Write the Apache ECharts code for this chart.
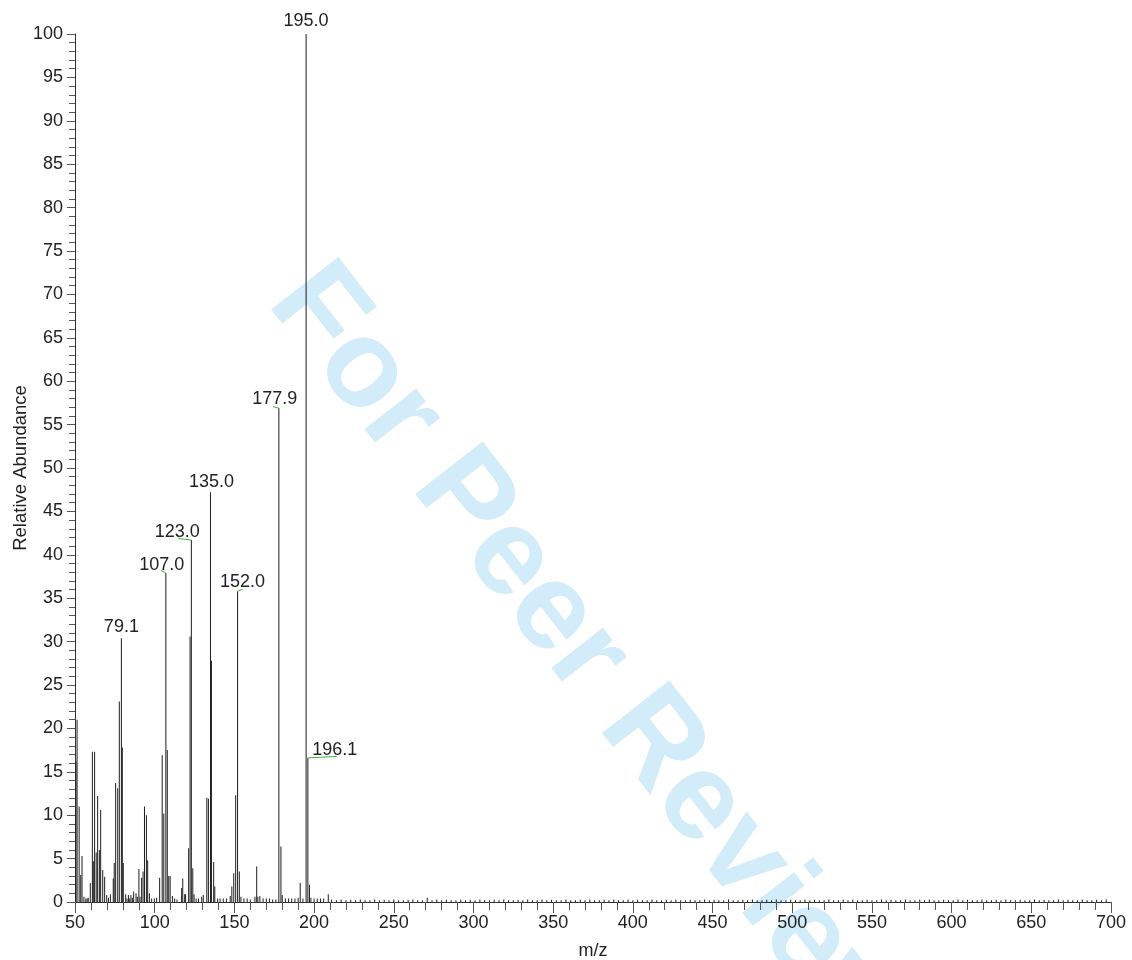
<!DOCTYPE html>
<html><head><meta charset="utf-8">
<script src="https://cdn.jsdelivr.net/npm/echarts@6/dist/echarts.min.js"></script>
<style>html,body{margin:0;padding:0;background:#fff}#chart{width:1132px;height:960px}</style>
</head><body><div id="chart"></div>
<script>
// ---- data ----
const peakMz = [50.6,51.3,52.6,53.6,54.4,55.6,56.8,57.6,58.3,59.6,60.9,61.5,62.3,63.3,64.2,65.3,66.1,67.4,68.6,69.9,
  71.0,72.2,74.0,74.6,75.5,76.8,77.8,79.1,79.7,80.3,81.8,82.6,83.5,84.3,85.1,86.0,86.8,88.3,89.1,90.1,
  90.8,91.8,92.7,93.6,94.8,95.6,96.7,98.1,99.8,101.2,103.1,104.7,105.7,107.0,107.9,108.8,109.7,111.1,112.5,114.0,
  116.9,117.6,118.8,119.4,121.3,122.2,123.0,123.9,124.7,126.0,127.5,129.5,130.5,132.7,133.7,135.0,135.6,137.0,137.7,139.5,
  141.0,143.0,145.0,147.4,148.4,149.6,150.8,152.0,153.1,154.1,156.0,158.0,160.0,162.9,164.0,164.7,166.0,168.0,170.0,172.0,
  174.0,176.0,177.9,179.2,180.0,182.0,184.0,186.0,188.0,190.0,191.3,193.0,195.0,196.1,197.1,198.0,200.0,202.0,204.0,206.0,208.9];
const peakAb = [16.2,21.0,11.0,3.1,5.3,0.6,0.4,0.4,0.5,2.2,17.3,4.7,17.3,5.7,12.2,6.0,10.6,3.7,2.9,0.8,
  0.5,0.9,2.7,4.5,13.7,13.1,23.1,30.4,17.8,4.5,0.9,0.4,0.8,0.4,0.8,0.5,1.2,1.0,0.6,3.8,
  0.6,2.8,3.5,11.0,10.0,4.8,1.0,0.4,0.4,0.5,2.8,16.9,10.2,37.9,17.5,3.0,3.0,0.7,0.4,0.3,
  1.6,2.7,0.9,0.9,6.2,30.6,41.7,3.9,0.9,0.4,0.4,0.6,0.8,12.0,11.9,47.2,27.8,4.6,1.8,0.4,
  0.4,0.4,0.4,0.7,1.8,3.3,12.3,35.8,3.5,0.6,0.4,0.4,0.3,0.6,4.1,0.6,0.7,0.4,0.4,0.4,
  0.3,0.3,56.9,6.4,0.8,0.4,0.4,0.4,0.4,0.5,2.2,0.4,100,16.6,2.0,0.5,0.4,0.4,0.4,0.4,0.9];
const noiseMz = [211,214,217,220,223,226,229,232,235,238,241,244,247,250,253,256,259,262,265,268,271,274,277,280,283,286,289,292,295,298,
  301,304,307,310,313,316,319,322,325,328,331,334,337,340,343,346,349,352,355,358,361,364,367,370,373,376,379,382,385,388,
  391,394,397,400,403,406,409,412,415,418,421,424,427,430,433,436,439,442,445,448,451,454,457,460,463,466,469,472,475,478,
  481,484,487,490,493,496,499,502,505,508,511,514,517,520,523,526,529,532,535,538,541,544,547,550,553,556,559,562,565,568,
  571,574,577,580,583,586,589,592,595,598,601,604,607,610,613,616,619,622,625,628,631,634,637,640,643,646,649,652,655,658,
  661,664,667,670,673,676,679,682,685,688,691,694,697];
const noiseAb = [0.3,0.2,0.3,0.2,0.25,0.2,0.3,0.2,0.2,0.3,0.2,0.25,0.2,0.3,0.2,0.2,0.25,0.3,0.2,0.2,0.5,0.2,0.3,0.2,0.25,0.2,0.2,0.3,0.2,0.25,
  0.2,0.3,0.2,0.2,0.25,0.2,0.3,0.2,0.2,0.25,0.2,0.3,0.2,0.2,0.3,0.2,0.25,0.2,0.2,0.3,0.2,0.2,0.25,0.2,0.3,0.2,0.2,0.25,0.2,0.3,
  0.2,0.2,0.3,0.2,0.25,0.2,0.2,0.3,0.2,0.2,0.25,0.2,0.3,0.2,0.2,0.25,0.2,0.2,0.3,0.2,0.25,0.2,0.2,0.3,0.2,0.2,0.25,0.2,0.3,0.2,
  0.2,0.25,0.2,0.3,0.2,0.2,0.25,0.2,0.2,0.3,0.2,0.25,0.2,0.2,0.3,0.2,0.2,0.25,0.2,0.3,0.2,0.2,0.25,0.2,0.2,0.3,0.2,0.25,0.2,0.2,
  0.3,0.2,0.2,0.25,0.2,0.3,0.2,0.2,0.25,0.2,0.2,0.3,0.2,0.25,0.2,0.2,0.3,0.2,0.2,0.25,0.2,0.3,0.2,0.2,0.25,0.2,0.2,0.3,0.2,0.25,
  0.2,0.2,0.3,0.2,0.25,0.2,0.2,0.3,0.2,0.2,0.25,0.2,0.3];
const labelMz = [79.1,107.0,123.0,135.0,152.0,177.9,195.0,196.1];
const labelText = ['79.1','107.0','123.0','135.0','152.0','177.9','195.0','196.1'];
const xName = 'm/z';
const yName = 'Relative Abundance';
const watermarkText = 'For Peer Review';

// ---- presentation ----
const FONT = '"Liberation Sans", Arial, sans-serif';
// label offsets (label centre dx,dy; leader end lx,ly; show leader) relative to peak top, px
const labelLayout = [
  {dx:0, dy:-11, line:false},
  {dx:-4, dy:-8, lx:-5, ly:-2.5, line:true},
  {dx:-14, dy:-8, lx:-13, ly:-1.5, line:true},
  {dx:1, dy:-10, line:false},
  {dx:5, dy:-9, lx:5, ly:-2, line:true},
  {dx:-4, dy:-9, lx:-6, ly:-1.5, line:true},
  {dx:0, dy:-13, line:false},
  {dx:27, dy:-8, lx:29, ly:-1.5, line:true}
];

const barData = [];
peakMz.forEach((m, i) => barData.push([m, peakAb[i]]));
noiseMz.forEach((m, i) => barData.push([m, noiseAb[i]]));
const labelData = labelMz.map((m, i) => [m, peakAb[peakMz.indexOf(m)], i]);

const chart = echarts.init(document.getElementById('chart'), null, {renderer: 'canvas'});
chart.setOption({
  animation: false,
  backgroundColor: '#fff',
  grid: {left: 75, right: 21, top: 34, bottom: 58, containLabel: false, outerBoundsMode: 'none'},
  xAxis: {
    type: 'value', min: 50, max: 700, interval: 50,
    name: xName, nameLocation: 'middle', nameGap: 40, nameMoveOverlap: false,
    nameTextStyle: {fontFamily: FONT, fontSize: 18, color: '#222'},
    axisLine: {show: true, lineStyle: {color: '#333', width: 1}},
    axisTick: {show: true, length: 11, lineStyle: {color: '#555'}},
    minorTick: {show: true, splitNumber: 5, length: 8, lineStyle: {color: '#555'}},
    axisLabel: {margin: 12, fontFamily: FONT, fontSize: 18, color: '#222'},
    splitLine: {show: false}
  },
  yAxis: {
    type: 'value', min: 0, max: 100, interval: 5,
    name: yName, nameLocation: 'middle', nameGap: 45, nameRotate: 90, nameMoveOverlap: false,
    nameTextStyle: {fontFamily: FONT, fontSize: 18.5, color: '#222'},
    axisLine: {show: true, lineStyle: {color: '#333', width: 1}},
    axisTick: {show: true, length: 8, lineStyle: {color: '#555'}},
    minorTick: {show: true, splitNumber: 5, length: 6, lineStyle: {color: '#555'}},
    axisLabel: {margin: 12, fontFamily: FONT, fontSize: 18, color: '#222'},
    splitLine: {show: false}
  },
  graphic: [{
    type: 'text', x: 590, y: 662, rotation: -52 * Math.PI / 180, z: -10, silent: true,
    style: {text: watermarkText, font: 'bold 124px ' + FONT, fill: '#d2ecfa', align: 'center', verticalAlign: 'middle'}
  }],
  series: [
    {
      type: 'bar', data: barData, barWidth: 1, silent: true,
      itemStyle: {color: '#1e1e1e'}
    },
    {
      type: 'custom', data: labelData, silent: true, clip: false, z: 5,
      renderItem: function (params, api) {
        const p = api.coord([api.value(0), api.value(1)]);
        const lay = labelLayout[api.value(2)];
        const children = [{
          type: 'text', x: p[0] + lay.dx, y: p[1] + lay.dy,
          style: {text: labelText[api.value(2)], font: '18px ' + FONT, fill: '#222', align: 'center', verticalAlign: 'middle'}
        }];
        if (lay.line) {
          children.push({type: 'line', shape: {x1: p[0], y1: p[1], x2: p[0] + lay.lx, y2: p[1] + lay.ly},
            style: {stroke: '#3cb43c', lineWidth: 1}});
        }
        return {type: 'group', children: children};
      }
    }
  ]
});
</script></body></html>
